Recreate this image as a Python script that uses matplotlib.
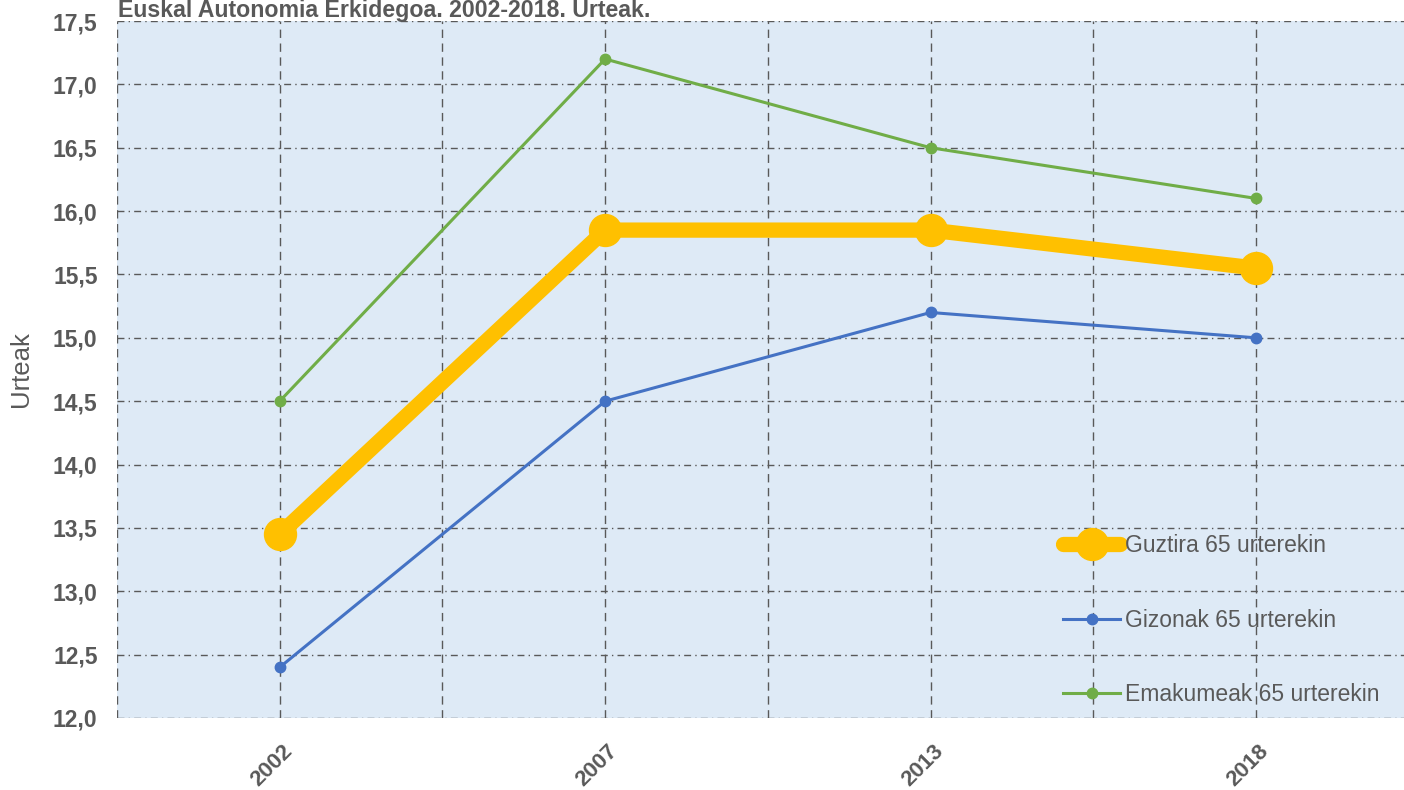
import numpy as np
import matplotlib
matplotlib.use("Agg")
import matplotlib.pyplot as plt
import matplotlib.transforms as mtransforms

plt.rcParams['font.family'] = ['Liberation Sans', 'DejaVu Sans']

years = ["2002", "2007", "2013", "2018"]
guztira = [13.45, 15.85, 15.85, 15.55]
gizonak = [12.4, 14.5, 15.2, 15.0]
emakumeak = [14.5, 17.2, 16.5, 16.1]
yticks = [12.0, 12.5, 13.0, 13.5, 14.0, 14.5, 15.0, 15.5, 16.0, 16.5, 17.0, 17.5]

grey = "#595959"

fig = plt.figure(figsize=(14.04, 7.9), dpi=100)
ax = fig.add_axes([117 / 1404, 1 - 718 / 790, (1404 - 117) / 1404, (718 - 21) / 790])
ax.set_facecolor("#DEEAF6")

x = np.arange(len(years))
ax.plot(x, guztira, color="#FFC000", lw=11, marker="o", ms=23, solid_capstyle="round",
        label="Guztira 65 urterekin", zorder=3)
ax.plot(x, gizonak, color="#4472C4", lw=2.2, marker="o", ms=7.5,
        label="Gizonak 65 urterekin", zorder=3)
ax.plot(x, emakumeak, color="#70AD47", lw=2.2, marker="o", ms=7.5,
        label="Emakumeak 65 urterekin", zorder=3)

ax.set_xlim(-0.5, 3.455)
ax.set_ylim(12.0, 17.5)
ax.set_yticks(yticks)
ax.set_yticklabels([("%.1f" % v).replace(".", ",") for v in yticks],
                   fontsize=16.5, fontweight="bold", color=grey)
ax.set_xticks(x)
ax.set_xticklabels(years, rotation=45, fontsize=16, fontweight="bold", color=grey,
                   ha="center", va="top")
ax.tick_params(axis="y", length=0, pad=14)
ax.tick_params(axis="x", length=0, pad=16)
shift = mtransforms.ScaledTranslation(-8 / 100, 0, fig.dpi_scale_trans)
for lab in ax.get_xticklabels():
    lab.set_transform(lab.get_transform() + shift)

for v in yticks:
    ax.axhline(v, color=grey, lw=1, ls=(0, (5, 3, 1, 3)), zorder=1)
for v in np.arange(-0.5, 3.5, 0.5):
    ax.axvline(v, color=grey, lw=1, ls=(0, (6, 4)), zorder=1)

for s in ax.spines.values():
    s.set_visible(False)

ax.set_ylabel("Urteak", fontsize=18.5, color=grey)
ax.yaxis.set_label_coords(-0.0653, 0.5)

fig.text(118 / 1404, 1 - 17 / 790, "Euskal Autonomia Erkidegoa. 2002-2018. Urteak.",
         fontsize=16.7, fontweight="bold", color=grey, va="baseline", ha="left")

leg = ax.legend(loc="lower left", bbox_to_anchor=(0.719, -0.013), frameon=False,
                fontsize=16.5, labelspacing=2.25, handlelength=2.5, handletextpad=0.2,
                labelcolor=grey)

fig.savefig("out.png", dpi=100)
